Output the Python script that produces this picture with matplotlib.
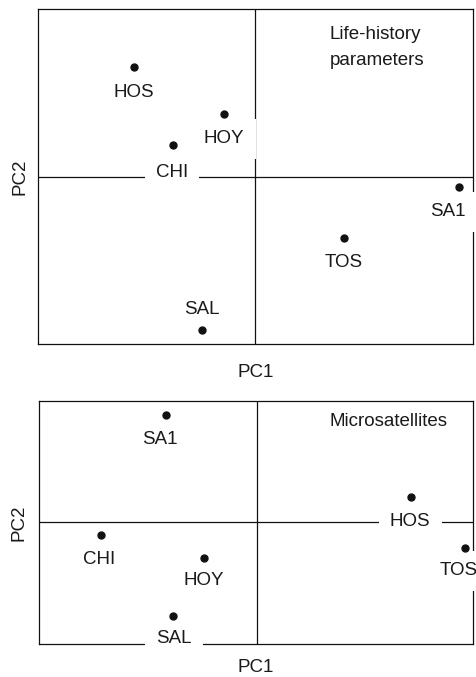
import matplotlib
matplotlib.use("Agg")
import matplotlib.pyplot as plt

plt.rcParams["font.family"] = ["Liberation Sans", "DejaVu Sans"]

# --- life-history PCA scores ---
lh_names = ["HOS", "HOY", "CHI", "SA1", "TOS", "SAL"]
lh_pc1 = [-1.21, -0.31, -0.82, 2.04, 0.89, -0.53]
lh_pc2 = [1.10, 0.63, 0.32, -0.10, -0.61, -1.53]

# --- microsatellite PCA scores ---
ms_names = ["SA1", "HOS", "CHI", "HOY", "SAL", "TOS"]
ms_pc1 = [-0.91, 1.54, -1.56, -0.53, -0.84, 2.08]
ms_pc2 = [1.07, 0.25, -0.13, -0.36, -0.94, -0.26]

# label offsets (points) relative to each dot
lh_offsets = {"HOS": (0, -18.5), "HOY": (0, -18), "CHI": (-0.7, -19.5),
              "SA1": (-8, -18), "TOS": (0, -18), "SAL": (0, 15)}
ms_offsets = {"SA1": (-4.3, -17.3), "HOS": (-0.7, -17.3), "CHI": (-1.4, -17.3),
              "HOY": (0, -16), "SAL": (0.7, -16.5), "TOS": (-4.3, -16.5)}

TXT = "#1a1a1a"
FS = 13.5


def draw_panel(ax, names, xs, ys, offsets, xlim, ylim, title, title_xy, xlab_y, ylab_x):
    ax.set_xlim(*xlim)
    ax.set_ylim(*ylim)
    ax.axhline(0, color="#111111", lw=0.9, zorder=1)
    ax.axvline(0, color="#111111", lw=0.9, zorder=1)
    ax.plot(xs, ys, "o", color="#111111", ms=5, zorder=5)
    for n, x, y in zip(names, xs, ys):
        ax.annotate(n, (x, y), xytext=offsets[n], textcoords="offset points",
                    ha="center", va="center", fontsize=FS, color=TXT, zorder=4,
                    bbox=dict(boxstyle="square,pad=0.6", fc="white", ec="none"))
    ax.text(title_xy[0], title_xy[1], title, transform=ax.transAxes, ha="left",
            va="center", fontsize=FS, color=TXT, linespacing=1.7)
    for s in ax.spines.values():
        s.set_linewidth(0.9)
        s.set_color("#111111")
    ax.set_xticks([])
    ax.set_yticks([])
    ax.set_xlabel("PC1", fontsize=FS, color=TXT)
    ax.set_ylabel("PC2", fontsize=FS, color=TXT)
    ax.xaxis.set_label_coords(0.5, xlab_y)
    ax.xaxis.label.set_va("center")
    ax.yaxis.set_label_coords(ylab_x, 0.5)
    ax.yaxis.label.set_va("center")


def main():
    fig = plt.figure(figsize=(4.77, 6.77), dpi=100)
    ax1 = fig.add_axes([0.0797, 0.4919, 0.912, 0.4948])
    ax2 = fig.add_axes([0.0818, 0.0487, 0.910, 0.359])

    draw_panel(ax1, lh_names, lh_pc1, lh_pc2, lh_offsets,
               (-2.17, 2.18), (-1.67, 1.68), "Life-history\nparameters",
               (0.671, 0.885), -0.084, -0.041)
    draw_panel(ax2, ms_names, ms_pc1, ms_pc2, ms_offsets,
               (-2.18, 2.16), (-1.22, 1.21), "Microsatellites",
               (0.670, 0.914), -0.095, -0.046)

    fig.savefig("out.png", dpi=100)
    plt.close(fig)


if __name__ == "__main__":
    main()
